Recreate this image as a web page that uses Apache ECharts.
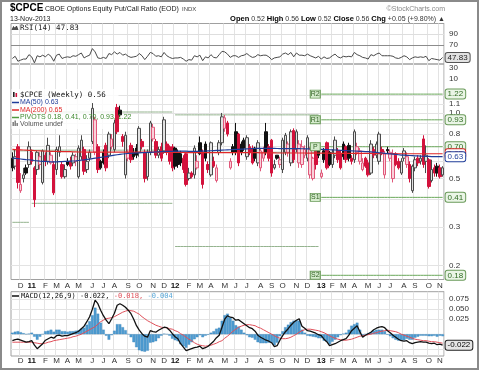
<!DOCTYPE html>
<html>
<head>
<meta charset="utf-8">
<script src="https://cdn.jsdelivr.net/npm/echarts@6.0.0/dist/echarts.min.js"></script>
<style>
html,body{margin:0;padding:0;background:#fff;}
#chart{width:480px;height:374px;}
</style>
</head>
<body>
<div id="chart"></div>
<script>
// ================= DATA =================
const weekStart = '2010-11-15';
const weekCount = 157;
const monthLetters = ['J','F','M','A','M','J','J','A','S','O','N','D'];

const open = [
.62,.57,.70,.44,.50,.56,.58,.66,.56,.55, .58,.48,.64,.60,.59,.58,.55,.66,.58,.51,
.60,.60,.59,.60,.51,.63,.68,.55,.62,.74, .66,.70,.60,.66,.71,.64,.70,.68,1.06,1.03,
.78,.52,.62,.71,.66,.69,.66,.74,.66,.51, .66,.76,.74,.64,.70,.67,.72,.70,.70,.69,
.66,.65,.62,.65,.50,.53,.52,.56,.73,.66, .72,.58,.52,.60,.49,.66,.73,.85,.90,.56,
.70,.82,.80,.72,.75,.63,.70,.69,.69,.59, .56,.62,.82,.70,.75,.56,.64,.58,.55,.66,
.66,.59,.83,.68,.59,.58,.64,.62,.52,.50, .72,.68,.51,.67,.73,.66,.58,.64,.67,.65,
.72,.70,.71,.62,.61,.66,.60,.55,.62,.59, .53,.68,.64,.60,.68,.52,.68,.62,.50,.64,
.60,.53,.62,.58,.58,.44,.56,.62,.60,.76, .60,.61,.49,.56,.57,.56,.52];
const close = [
.56,.63,.48,.47,.52,.53,.70,.60,.40,.66, .63,.67,.60,.71,.64,.43,.68,.70,.51,.55,
.58,.57,.64,.63,.69,.75,.54,.60,.66,1.05, .93,.55,.56,.59,.56,.80,.76,.90,.82,.98,
.74,.79,.66,.61,.63,.64,.85,.70,.50,.66, .90,.86,.64,.68,.62,.93,.66,.60,.56,.57,
.58,.59,.55,.47,.53,.51,.69,.60,.65,.47, .62,.55,.73,.57,.56,.73,.96,.95,.80,.60,
.66,.66,.59,.66,.69,.77,.66,.59,.62,.73, .67,.66,.66,.62,.53,.58,.62,.61,.75,.79,
.72,.82,.61,.82,.72,.70,.68,.77,.68,.62, .58,.64,.53,.61,.56,.58,.66,.75,.61,.56,
.63,.61,.62,.60,.82,.70,.67,.59,.57,.52, .72,.64,.72,.80,.66,.65,.67,.66,.65,.58,
.56,.60,.67,.63,.50,.57,.61,.59,.62,.58, .64,.46,.55,.53,.53,.51,.56];
const low = [
.54,.55,.45,.43,.48,.52,.56,.58,.37,.52, .55,.47,.57,.58,.58,.42,.52,.63,.50,.50,
.57,.55,.57,.57,.50,.61,.52,.53,.60,.72, .64,.53,.55,.58,.54,.62,.68,.66,.80,.96,
.70,.50,.60,.59,.61,.62,.63,.68,.48,.49, .64,.74,.62,.62,.60,.65,.64,.58,.54,.55,
.56,.57,.53,.46,.49,.50,.50,.55,.64,.45, .60,.53,.51,.56,.48,.64,.71,.82,.78,.55,
.64,.64,.57,.64,.67,.61,.64,.58,.60,.57, .54,.60,.64,.60,.51,.55,.61,.56,.53,.64,
.63,.57,.59,.66,.56,.56,.62,.60,.50,.49, .55,.62,.50,.59,.55,.57,.56,.62,.59,.55,
.61,.59,.60,.58,.59,.64,.58,.54,.56,.51, .52,.62,.62,.58,.64,.50,.65,.60,.48,.57,
.55,.52,.60,.56,.48,.43,.54,.57,.58,.56, .53,.45,.48,.51,.51,.50,.51];
const high = [
.66,.68,.72,.53,.56,.58,.74,.68,.57,.67, .66,.68,.66,.77,.66,.60,.70,.79,.60,.58,
.62,.63,.66,.65,.71,.79,.70,.64,.68,1.11, .96,.72,.61,.68,.73,.82,.80,.93,1.10,1.08,
.80,.82,.68,.73,.69,.72,.87,.76,.68,.68, .92,.89,.76,.70,.73,.96,.74,.71,.72,.70,
.68,.67,.64,.66,.56,.54,.71,.64,.78,.68, .74,.60,.74,.63,.58,.75,1.00,.98,.92,.62,
.72,.90,.81,.74,.77,.79,.72,.71,.70,.75, .69,.70,.90,.72,.76,.61,.64,.63,.77,.81,
.74,.84,.85,.84,.75,.75,.71,.79,.70,.63, .73,.69,.55,.69,.74,.67,.68,.78,.69,.67,
.74,.71,.73,.64,.84,.73,.69,.62,.63,.61, .75,.70,.74,.82,.70,.67,.70,.68,.68,.66,
.62,.62,.69,.66,.60,.58,.63,.64,.64,.79, .71,.62,.61,.58,.59,.58,.57];

const ma50 = [
.620,.619,.617,.615,.613,.611,.610,.608, .605,.603,.601,.600,.599,.598,.597,.596,
.597,.598,.598,.599,.600,.601,.602,.603, .605,.607,.609,.612,.614,.617,.620,.622,
.625,.628,.631,.634,.637,.640,.643,.646, .648,.650,.652,.653,.654,.655,.656,.657,
.658,.659,.660,.661,.662,.663,.664,.665, .666,.667,.667,.668,.668,.668,.668,.668,
.667,.667,.667,.667,.668,.668,.669,.670, .671,.672,.673,.674,.675,.676,.677,.678,
.679,.680,.681,.682,.683,.684,.685,.686, .687,.688,.688,.688,.688,.688,.688,.688,
.687,.686,.686,.686,.686,.686,.686,.686, .686,.685,.685,.684,.684,.683,.683,.682,
.681,.680,.679,.678,.677,.676,.675,.674, .673,.672,.671,.670,.669,.668,.667,.666,
.665,.664,.663,.661,.659,.657,.655,.653, .651,.649,.647,.645,.643,.641,.640,.639,
.638,.637,.636,.635,.634,.633,.632,.632, .631,.631,.630,.630,.630];
const ma200 = [
.680,.679,.678,.677,.676,.675,.674,.673, .672,.671,.670,.669,.668,.668,.667,.667,
.666,.666,.665,.665,.664,.664,.663,.663, .662,.662,.662,.661,.661,.661,.661,.661,
.661,.661,.661,.661,.661,.661,.661,.661, .661,.661,.661,.661,.661,.661,.661,.661,
.661,.661,.661,.661,.660,.660,.660,.660, .660,.660,.660,.660,.659,.659,.659,.659,
.658,.658,.658,.658,.657,.657,.657,.657, .657,.657,.657,.657,.657,.657,.657,.657,
.657,.657,.657,.657,.657,.657,.657,.657, .657,.657,.656,.656,.656,.656,.656,.656,
.655,.655,.655,.655,.655,.655,.655,.655, .655,.655,.655,.654,.654,.654,.654,.654,
.654,.654,.654,.654,.653,.653,.653,.653, .653,.653,.653,.653,.652,.652,.652,.652,
.652,.652,.652,.652,.651,.651,.651,.651, .651,.651,.651,.651,.650,.650,.650,.650,
.650,.650,.650,.650,.650,.650,.650,.650, .650,.650,.650,.650,.650];

const pivotYears = ['2010','2011','2012','2013'];
const pivotR2 = [null, null, null, 1.22];
const pivotR1 = [null, 1.01, 0.98, 0.93];
const pivotP  = [0.67, 0.675, 0.66, 0.70];
const pivotS1 = [0.315, 0.385, 0.244, 0.41];
const pivotS2 = [null, null, null, 0.18];

const rsi = [
46,50,41,43,45,45,53,49,38,51, 49,52,49,54,50,41,52,54,46,48,
49,48,51,50,53,56,47,50,52,64, 58,47,46,48,46,55,53,58,54,57,
52,54,50,48,49,50,55,51,44,50, 57,55,50,51,49,57,51,48,46,47,
47,48,45,41,44,43,51,49,52,42, 49,47,53,48,47,53,59,58,54,48,
51,51,48,51,52,55,51,48,49,53, 51,52,52,49,44,47,48,49,54,56,
53,57,49,56,52,52,51,54,51,49, 47,50,45,49,46,47,51,54,49,47,
50,49,50,49,57,53,51,48,47,45, 53,51,54,56,51,51,51,51,50,47,
46,48,51,49,44,47,49,48,49,48, 50,42,46,45,44,43,47.83];

const macd = [
-.013,-.011,-.010,-.012,-.014,-.016,-.015,-.013,-.022,-.029,
-.024,-.019,-.012,-.009,-.006,-.008,-.003,-.002,-.004,-.003,
-.003,-.001,.001,.003,.006,.011,.016,.025,.035,.050,
.068,.061,.048,.037,.028,.021,.031,.042,.058,.061,
.058,.054,.048,.041,.030,.017,.008,.001,-.004,-.006,
.007,.005,.004,.008,.011,.014,.013,.008,.001,-.005,
-.009,-.019,-.026,-.033,-.031,-.029,-.027,-.026,-.024,-.029,
-.027,-.024,-.019,-.014,-.007,-.002,.014,.030,.037,.034,
.033,.028,.029,.025,.021,.017,.013,.011,.006,-.002,
-.006,-.009,-.012,-.014,-.017,-.025,-.023,-.012,-.003,.005,
.011,.018,.024,.028,.031,.016,.012,.007,.006,.004,
.002,-.001,-.003,-.010,-.015,-.023,-.021,-.019,-.016,-.013,
-.011,-.009,-.002,.007,.012,.017,.005,-.006,-.002,.001,
.004,.009,.012,.014,.015,.013,.007,.003,-.002,-.006,
-.010,-.013,-.014,-.013,-.017,-.019,-.017,-.016,-.015,-.016,
-.016,-.018,-.019,-.018,-.021,-.020,-.022];
const macdSignal = [
-.016,-.016,-.016,-.016,-.016,-.016,-.016,-.016,-.017,-.018,
-.019,-.019,-.018,-.016,-.015,-.013,-.012,-.011,-.010,-.009,
-.008,-.007,-.005,-.004,-.002,.000,.003,.006,.009,.012,
.015,.020,.025,.028,.031,.032,.033,.035,.038,.041,
.044,.046,.048,.047,.046,.043,.040,.035,.031,.027,
.024,.021,.018,.016,.014,.013,.013,.011,.010,.007,
.005,.001,-.002,-.006,-.010,-.013,-.017,-.020,-.022,-.023,
-.024,-.023,-.022,-.020,-.018,-.015,-.013,-.008,-.004,.001,
.006,.010,.014,.016,.018,.019,.019,.018,.017,.014,
.012,.009,.006,.003,.000,-.003,-.006,-.008,-.009,-.009,
-.008,-.006,-.003,.000,.004,.007,.009,.010,.010,.009,
.008,.007,.005,.003,.000,-.003,-.006,-.008,-.010,-.011,
-.012,-.012,-.011,-.010,-.008,-.006,-.004,-.003,-.002,-.001,
.000,.002,.003,.005,.006,.007,.008,.007,.006,.005,
.003,.000,-.002,-.004,-.006,-.008,-.010,-.011,-.012,-.013,
-.013,-.014,-.015,-.015,-.016,-.017,-.018];
const macdHist = [
.003,.005,.006,.004,.002,.000,.001,.003,-.005,-.011,
-.005,.000,.006,.007,.009,.005,.009,.009,.006,.006,
.005,.006,.006,.007,.008,.011,.013,.019,.026,.038,
.053,.041,.023,.009,-.003,-.011,-.002,.007,.020,.020,
.014,.008,.000,-.006,-.016,-.026,-.032,-.034,-.035,-.033,
-.017,-.016,-.014,-.008,-.003,.001,.000,-.003,-.009,-.012,
-.014,-.020,-.024,-.027,-.021,-.016,-.010,-.006,-.002,-.006,
-.003,-.001,.003,.006,.011,.013,.027,.038,.041,.033,
.027,.018,.015,.009,.003,-.002,-.006,-.007,-.011,-.016,
-.018,-.018,-.018,-.017,-.017,-.022,-.017,-.004,.006,.014,
.019,.024,.027,.028,.027,.009,.003,-.003,-.004,-.005,
-.006,-.008,-.008,-.013,-.015,-.020,-.015,-.011,-.006,-.002,
.001,.003,.009,.017,.020,.023,.009,-.003,.000,.002,
.004,.007,.009,.009,.009,.006,-.001,-.004,-.008,-.011,
-.013,-.013,-.012,-.009,-.011,-.011,-.007,-.005,-.003,-.003,
-.003,-.004,-.004,-.003,-.005,-.003,-.004];

const priceGridValues = [0.2,0.3,0.4,0.5,0.6,0.7,0.8,0.9,1.0,1.1,1.2];
const priceTickLabels = [0.2,0.3,0.5,0.8,1.0,1.1];
const rsiTickLabels = [90,70,30,10];
const macdGridValues = [-0.025,0,0.025,0.05,0.075];
const macdTickLabels = [0.025,0.05,0.075];
const quote = {open:'0.52', high:'0.56', low:'0.52', close:'0.56', chg:'+0.05 (+9.80%)', date:'13-Nov-2013'};

// ================= BUILD =================
const FONT = 'Liberation Sans';
const MONO = 'DejaVu Sans Mono';
const categories = [];
(function(){
  const t0 = Date.parse(weekStart + 'T00:00:00Z');
  for (let i = 0; i < weekCount; i++) categories.push(new Date(t0 + i*604800000).toISOString().slice(0,10));
})();
const monthStart = categories.map((c,i) => i > 0 && c.slice(5,7) !== categories[i-1].slice(5,7));
const yearOf = categories.map(c => c.slice(0,4));
function monthLabel(c){ const m = +c.slice(5,7); return m === 1 ? '{y|' + c.slice(2,4) + '}' : monthLetters[m-1]; }
const fmt2 = v => v.toFixed(2);
const fmt3 = v => v.toFixed(3);
const last = a => a[a.length-1];

function boxLabel(text, color, bg, border, bold){
  return {show:true, formatter:text, fontSize:8, fontFamily:FONT, fontWeight: bold ? 'bold' : 'normal',
    color:color, backgroundColor:bg, borderColor:border, borderWidth:1, padding:[1,2,0,2], borderRadius:2, distance:3};
}

const styles = {
  upBlack:  {fill:'#e2e2e2', line:'#4a4a4a'},
  dnBlack:  {fill:'#111111', line:'#111111'},
  upRed:    {fill:'#f9d2da', line:'#e0587a'},
  dnRed:    {fill:'#d3123c', line:'#d3123c'}
};
const candleData = close.map((c,i) => {
  const up = c >= open[i];
  const rising = i === 0 ? true : c >= close[i-1];
  const st = rising ? (up ? styles.upBlack : styles.dnBlack) : (up ? styles.upRed : styles.dnRed);
  return {value:[open[i], c, low[i], high[i]],
    itemStyle:{color:st.fill, color0:st.fill, borderColor:st.line, borderColor0:st.line, borderWidth:1}};
});

function xAxisCfg(gi, showLabels, margin){
  return {type:'category', gridIndex:gi, data:categories, boundaryGap:true,
    axisLine:{show:false}, axisTick:{show:false},
    axisLabel:{show:showLabels, interval:(i)=>monthStart[i], formatter:(v)=>monthLabel(v),
      fontSize:8, fontFamily:FONT, color:'#333', margin:margin,
      rich:{y:{fontWeight:'bold', fontSize:8, fontFamily:FONT, color:'#111'}}},
    splitLine:{show:true, interval:(i)=>monthStart[i], lineStyle:{color:'#e3e3e3', width:1}}};
}
const hiddenY = {axisLine:{show:false}, axisTick:{show:false}, axisLabel:{show:false}, splitLine:{show:false}};

const series = [];

// RSI panel
series.push({name:'RSI', type:'line', xAxisIndex:0, yAxisIndex:0, data:rsi, symbol:'none', z:3, silent:true,
  lineStyle:{color:'#4a4a4a', width:1},
  endLabel: boxLabel(fmt2(last(rsi)), '#222', '#e2e2e2', '#555'),
  markLine:{silent:true, symbol:'none', z:1, animation:false, label:{show:false},
    data:[{yAxis:90, lineStyle:{color:'#dedede', width:1, type:'solid'}},
          {yAxis:70, lineStyle:{color:'#8c8c8c', width:1, type:'solid'}}]}
});

// Main price panel
const priceMarks = priceGridValues.map(v => ({yAxis:v, lineStyle:{color:'#e3e3e3', width:1, type:'solid'},
  label: priceTickLabels.indexOf(v) >= 0 ? {show:true, formatter:v.toFixed(1), position:'end', distance:5, fontSize:8, fontFamily:FONT, color:'#333'} : {show:false}}));
priceMarks.push({yAxis:last(close), lineStyle:{opacity:0, width:0},
  label: Object.assign(boxLabel(fmt2(last(close)), '#000', '#fff', '#000', true), {position:'end'})});
series.push({name:'$CPCE', type:'candlestick', xAxisIndex:1, yAxisIndex:1, data:candleData, barWidth:3, z:3, silent:true,
  markLine:{silent:true, symbol:'none', z:1, animation:false, data:priceMarks}});

// pivots
const levels = [['R2',pivotR2],['R1',pivotR1],['P',pivotP],['S1',pivotS1],['S2',pivotS2]];
levels.forEach(([name, vals]) => {
  pivotYears.forEach((yr, k) => {
    const v = vals[k];
    if (v == null) return;
    const isCur = k === pivotYears.length - 1;
    const first = yearOf.indexOf(yr);
    const s = {type:'line', xAxisIndex:1, yAxisIndex:1, data:yearOf.map(y => y === yr ? v : null),
      symbol:'none', z:2.5, silent:true, lineStyle:{color: isCur ? '#6aa85a' : '#94b38e', width:1}};
    if (isCur) {
      s.endLabel = boxLabel(fmt2(v), '#2f6a22', '#eaf5e6', '#6a9a5a');
      s.markPoint = {silent:true, animation:false, data:[{coord:[categories[first], v], symbol:'rect', symbolSize:[10,8], symbolOffset:[-6,0],
        itemStyle:{color:'#d6ecce', borderColor:'#6a9a5a', borderWidth:1},
        label:{show:true, position:'inside', formatter:name, fontSize:7, fontFamily:FONT, color:'#2f5f22'}}]};
    }
    series.push(s);
  });
});

series.push({name:'MA200', type:'line', xAxisIndex:1, yAxisIndex:1, data:ma200, symbol:'none', z:4, silent:true,
  lineStyle:{color:'#e02828', width:1.2}, endLabel: boxLabel(fmt2(last(ma200)), '#d02020', '#fff', '#d02020')});
series.push({name:'MA50', type:'line', xAxisIndex:1, yAxisIndex:1, data:ma50, symbol:'none', z:4, silent:true,
  lineStyle:{color:'#1f3d99', width:1.2}, endLabel: boxLabel(fmt2(last(ma50)), '#1f3d99', '#fff', '#1f3d99')});

// MACD panel
const macdMarks = macdGridValues.map(v => ({yAxis:v, lineStyle:{color:'#e3e3e3', width:1, type:'solid'},
  label: macdTickLabels.indexOf(v) >= 0 ? {show:true, formatter:fmt3(v), position:'end', distance:5, fontSize:8, fontFamily:FONT, color:'#333'} : {show:false}}));
series.push({name:'Hist', type:'bar', xAxisIndex:2, yAxisIndex:2, data:macdHist, barWidth:2.7, z:3, silent:true,
  itemStyle:{color:'#4d9bd1', borderColor:'#3a80b3', borderWidth:0.3},
  markLine:{silent:true, symbol:'none', z:1, animation:false, data:[{yAxis:last(macdHist), lineStyle:{opacity:0, width:0},
    label:Object.assign(boxLabel(fmt3(last(macdHist)), '#1f6fa0', '#cfe6f6', '#3d8ec9'), {position:'end'})}]}});
series.push({name:'Signal', type:'line', xAxisIndex:2, yAxisIndex:2, data:macdSignal, symbol:'none', z:4, silent:true,
  lineStyle:{color:'#e0505a', width:1}});
series.push({name:'MACD', type:'line', xAxisIndex:2, yAxisIndex:2, data:macd, symbol:'none', z:5, silent:true,
  lineStyle:{color:'#111', width:1.3},
  endLabel: boxLabel(fmt3(last(macd)), '#000', '#e6e6e6', '#222'),
  markLine:{silent:true, symbol:'none', z:1, animation:false, data:macdMarks}});

// ---- text / graphic ----
function txt(text, x, y, font, fill, align, extra){
  return Object.assign({type:'text', x:x, y:y, z:20, silent:true,
    style:Object.assign({text:text, font:font, fill:fill, textAlign:align||'left', align:align||'left',
      textVerticalAlign:'middle', verticalAlign:'middle'}, extra||{})});
}
const pivotsNow = [pivotS2[3], pivotS1[3], pivotP[3], pivotR1[3], pivotR2[3]].map(fmt2).join(', ');
const baseGraphics = [
  {type:'rect', z:30, silent:true, shape:{x:1, y:1, width:477, height:368}, style:{fill:'none', stroke:'#8a8a8a', lineWidth:2}},
  txt('$CPCE', 10, 8, 'bold 10px ' + FONT, '#000'),
  txt('CBOE Options Equity Put/Call Ratio (EOD)', 45, 9, '7px ' + FONT, '#222'),
  txt('INDX', 182, 9, '6px ' + FONT, '#444'),
  txt('\u00a9StockCharts.com', 445, 9, '7px ' + FONT, '#888', 'right'),
  txt(quote.date, 10, 19, '7px ' + FONT, '#222'),
  txt('{b|Open} ' + quote.open + ' {b|High} ' + quote.high + ' {b|Low} ' + quote.low + ' {b|Close} ' + quote.close + ' {b|Chg} ' + quote.chg + ' \u25b2',
      445, 19, '7px ' + FONT, '#333', 'right', {rich:{b:{font:'bold 7.5px ' + FONT, fill:'#000'}}}),
  // RSI legend
  {type:'polyline', z:20, silent:true, shape:{points:[[12,30],[13.5,26.5],[15,28.5],[16.5,26],[18,30]]}, style:{fill:'#555', stroke:'#333', lineWidth:0.8}},
  txt('RSI(14) ' + fmt2(last(rsi)), 20, 28, '7.5px ' + MONO, '#222'),
  // main legend background
  {type:'rect', z:2.7, silent:true, shape:{x:11.5, y:89, width:107, height:40}, style:{fill:'rgba(255,255,255,0.82)'}},
  {type:'rect', z:20, silent:true, shape:{x:13, y:92, width:1.6, height:5}, style:{fill:'#222'}},
  {type:'rect', z:20, silent:true, shape:{x:15.5, y:93, width:1.6, height:4}, style:{fill:'#d3123c'}},
  txt('$CPCE (Weekly) ' + fmt2(last(close)), 20, 95, '7.5px ' + MONO, '#111'),
  {type:'line', z:20, silent:true, shape:{x1:12, y1:102.5, x2:19, y2:102.5}, style:{stroke:'#1f3d99', lineWidth:1.5}},
  txt('MA(50) ' + fmt2(last(ma50)), 20, 102.5, '7px ' + FONT, '#1f3d99'),
  {type:'line', z:20, silent:true, shape:{x1:12, y1:110, x2:19, y2:110}, style:{stroke:'#e02828', lineWidth:1.5}},
  txt('MA(200) ' + fmt2(last(ma200)), 20, 110, '7px ' + FONT, '#e02828'),
  {type:'line', z:20, silent:true, shape:{x1:12, y1:117.5, x2:19, y2:117.5}, style:{stroke:'#4f9a3f', lineWidth:1.5}},
  txt('PIVOTS ' + pivotsNow, 20, 117.5, '7px ' + FONT, '#3f8a2f'),
  {type:'rect', z:20, silent:true, shape:{x:12.5, y:122, width:1.4, height:4}, style:{fill:'#777'}},
  {type:'rect', z:20, silent:true, shape:{x:14.5, y:120.5, width:1.4, height:5.5}, style:{fill:'#777'}},
  {type:'rect', z:20, silent:true, shape:{x:16.5, y:123, width:1.4, height:3}, style:{fill:'#777'}},
  txt('Volume undef', 20, 124.5, '7px ' + FONT, '#555'),
  // MACD legend
  {type:'line', z:20, silent:true, shape:{x1:12, y1:296, x2:19, y2:296}, style:{stroke:'#111', lineWidth:1.5}},
  txt('MACD(12,26,9) ' + fmt3(last(macd)) + ', {r|' + fmt3(last(macdSignal)) + ',} {b|' + fmt3(last(macdHist)) + '}', 21, 296, '7px ' + MONO, '#111', 'left',
      {rich:{r:{font:'7px ' + MONO, fill:'#e0505a'}, b:{font:'7px ' + MONO, fill:'#5aa8d8'}}})
];

const option = {
  animation:false,
  backgroundColor:'#ffffff',
  textStyle:{fontFamily:FONT},
  grid:[
    {left:11, right:36, top:23.5, height:40.5, show:true, borderColor:'#a0a0a0', borderWidth:1, backgroundColor:'transparent', containLabel:false, outerBoundsMode:'none'},
    {left:11, right:36, top:64, height:215.5, show:true, borderColor:'#a0a0a0', borderWidth:1, backgroundColor:'transparent', containLabel:false, outerBoundsMode:'none'},
    {left:11, right:36, top:291.7, height:64.3, show:true, borderColor:'#a0a0a0', borderWidth:1, backgroundColor:'transparent', containLabel:false, outerBoundsMode:'none'}
  ],
  xAxis:[xAxisCfg(0,false,2), xAxisCfg(1,true,2), xAxisCfg(2,true,1)],
  yAxis:[
    Object.assign({type:'value', gridIndex:0, min:36, max:109.6, position:'right'}, hiddenY),
    Object.assign({type:'log', logBase:10, gridIndex:1, min:0.1722, max:1.677, position:'right'}, hiddenY),
    Object.assign({type:'value', gridIndex:2, min:-0.0436, max:0.085, position:'right'}, hiddenY)
  ],
  series:series,
  graphic:{elements:baseGraphics}
};

const chart = echarts.init(document.getElementById('chart'), null, {renderer:'canvas', width:480, height:374});
chart.setOption(option);

// RSI tick labels (some fall outside the small RSI panel, as in the original)
const rsiLabelEls = rsiTickLabels.map(v => {
  const y = chart.convertToPixel({yAxisIndex:0}, v);
  return txt(String(v), 449, y, '8px ' + FONT, '#333');
});
chart.setOption({graphic:{elements: baseGraphics.concat(rsiLabelEls)}});
</script>
</body>
</html>
